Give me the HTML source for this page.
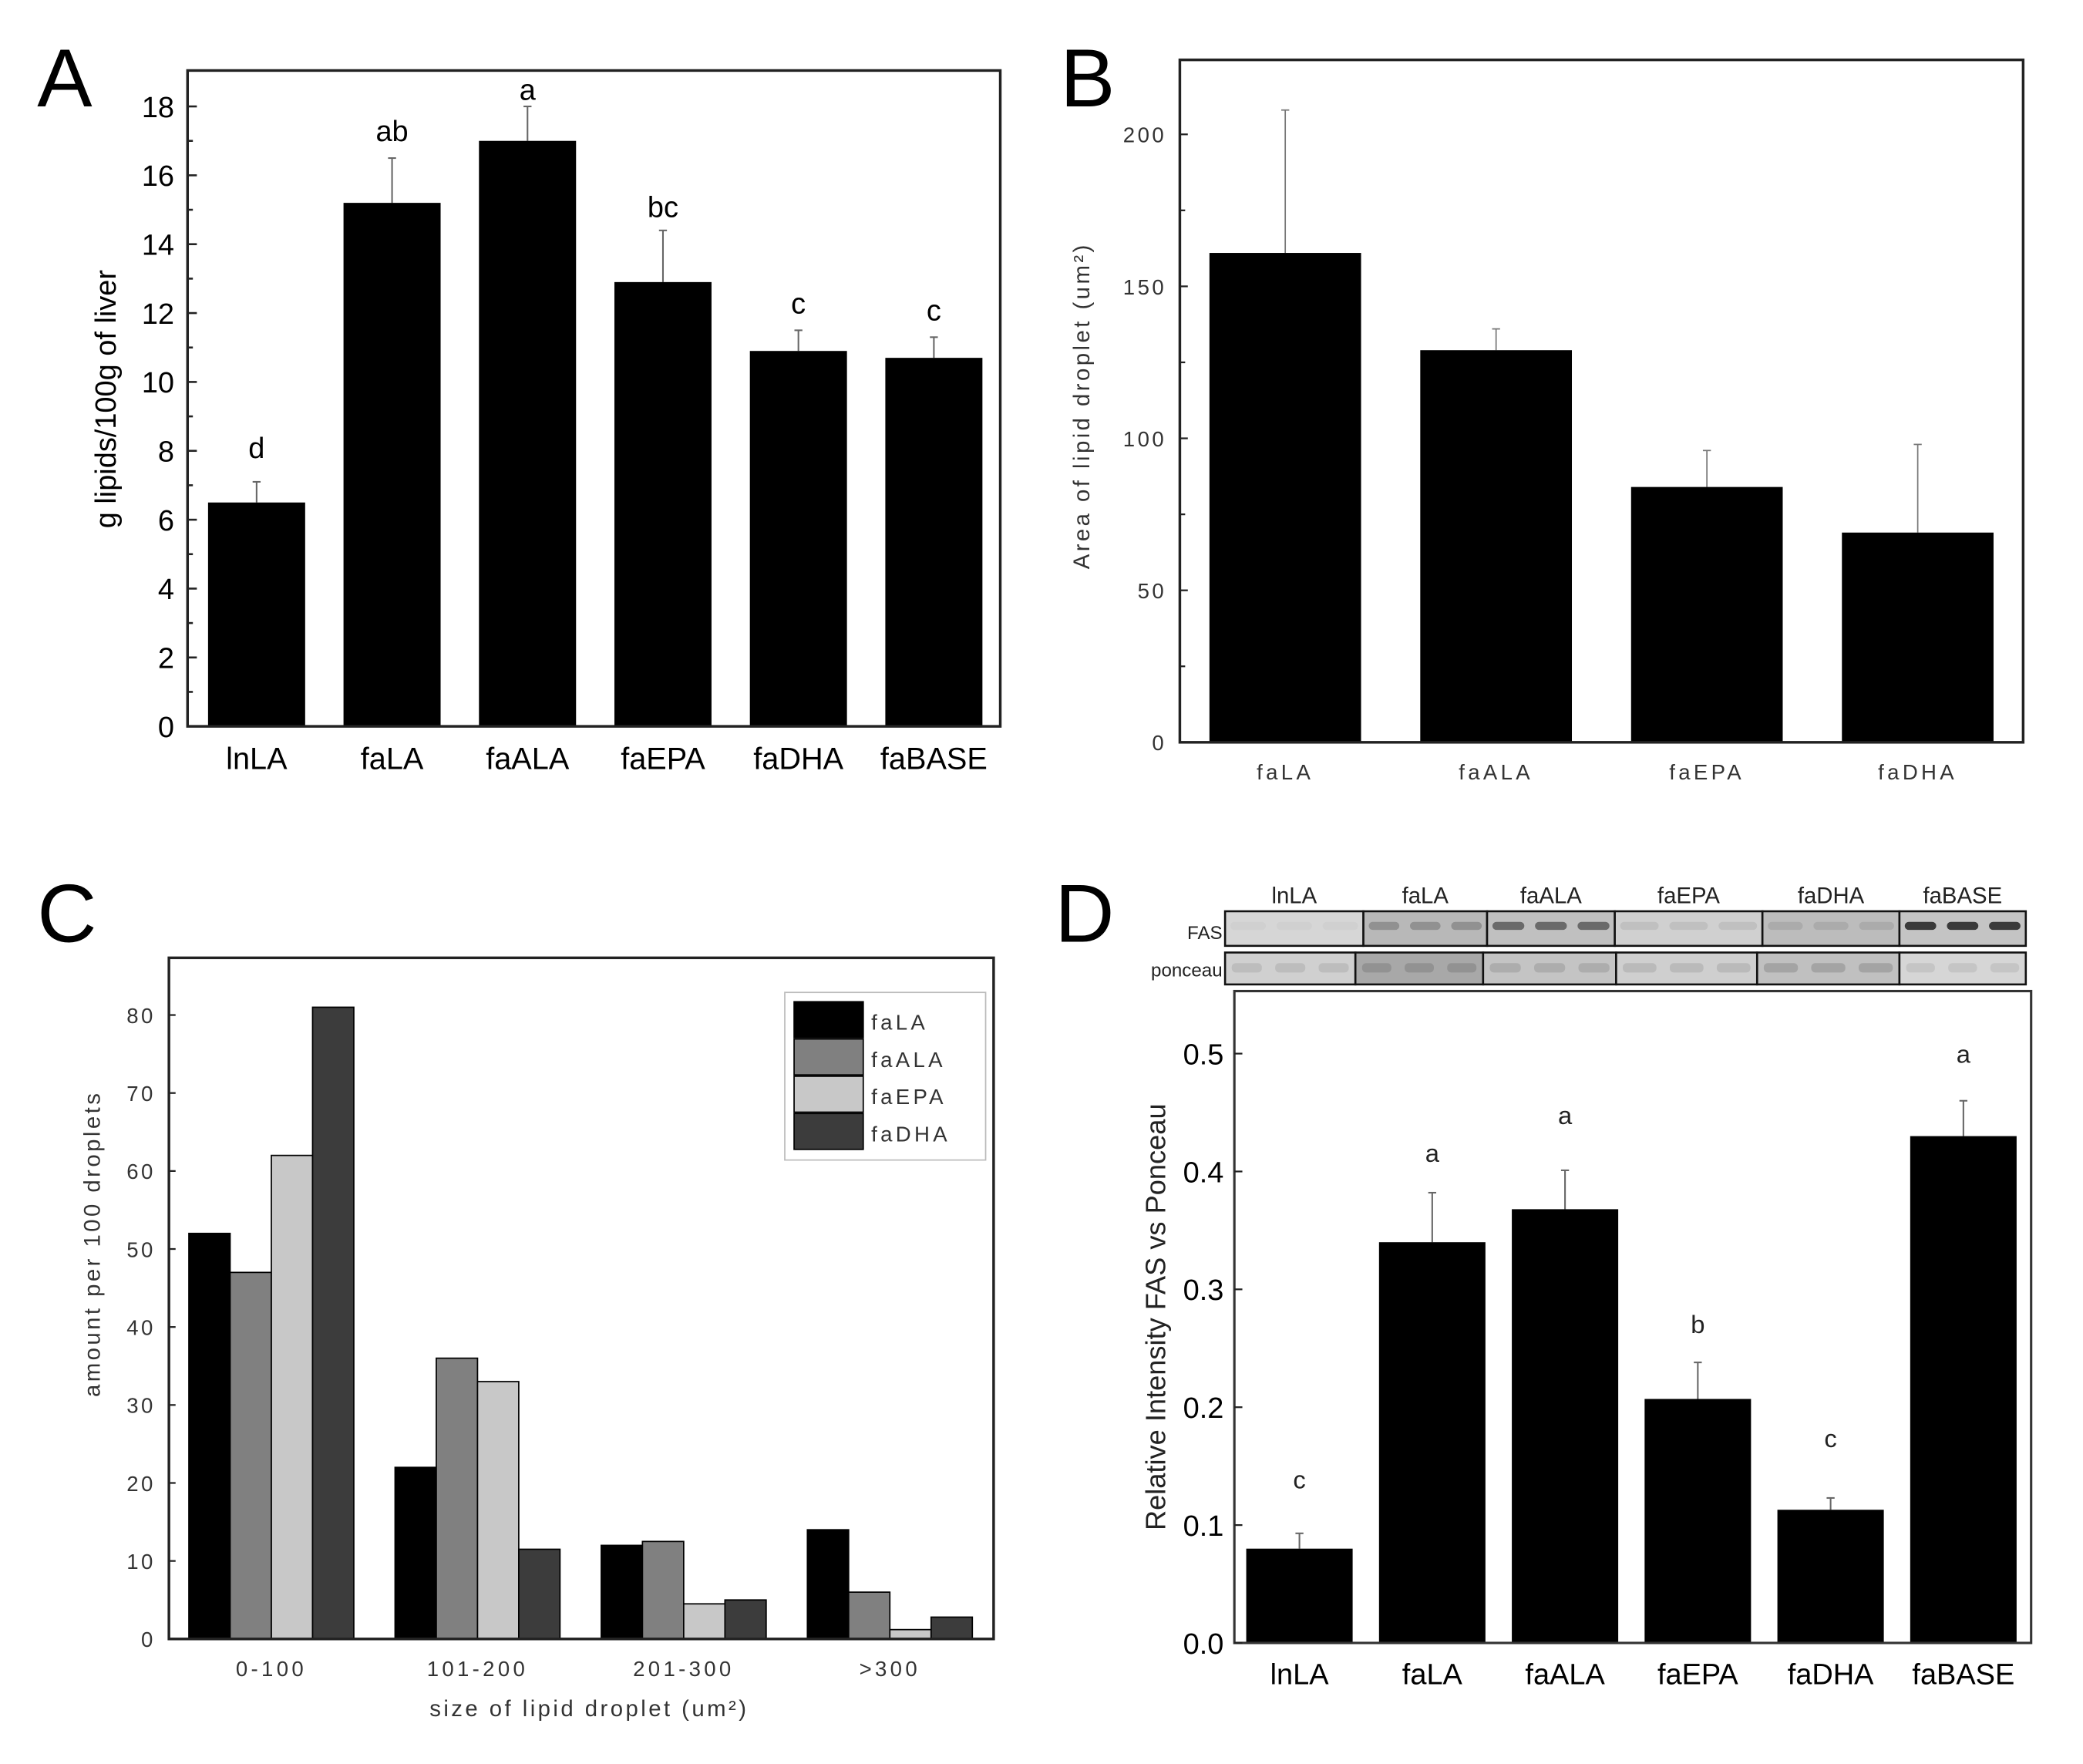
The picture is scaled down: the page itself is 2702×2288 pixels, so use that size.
<!DOCTYPE html>
<html><head><meta charset="utf-8"><style>
html,body{margin:0;padding:0;background:#fff;}
svg{display:block;}
text{font-family:"Liberation Sans",Arial,sans-serif;}
</style></head><body>
<svg id="fig" width="2702" height="2288" viewBox="0 0 1566 1326" preserveAspectRatio="none" xmlns="http://www.w3.org/2000/svg">
<rect x="0" y="0" width="1566" height="1326" fill="#fff"/>
</svg>
<script>
// ---------- Panel A data ----------
const aCats = ["lnLA","faLA","faALA","faEPA","faDHA","faBASE"];
const aVals = [6.5, 15.2, 17.0, 12.9, 10.9, 10.7];
const aErr = [0.6, 1.3, 1.0, 1.5, 0.6, 0.6];
const aLetters = ["d","ab","a","bc","c","c"];
const aLetterVal = [8.1, 17.3, 18.5, 15.1, 12.3, 12.1];
const aTicks = [0,2,4,6,8,10,12,14,16,18];
// ---------- Panel B data ----------
const bCats = ["faLA","faALA","faEPA","faDHA"];
const bVals = [161, 129, 84, 69];
const bErr = [47, 7, 12, 29];
const bTicks = [0,50,100,150,200];
// ---------- Panel C data ----------
const cGroups = ["0-100","101-200","201-300",">300"];
const cSeries = ["faLA","faALA","faEPA","faDHA"];
const cFaLA = [52, 22, 12, 14];
const cFaALA = [47, 36, 12.5, 6];
const cFaEPA = [62, 33, 4.5, 1.2];
const cFaDHA = [81, 11.5, 5, 2.8];
const cTicks = [0,10,20,30,40,50,60,70,80];
// ---------- Panel D data ----------
const dCats = ["lnLA","faLA","faALA","faEPA","faDHA","faBASE"];
const dVals = [0.08, 0.34, 0.368, 0.207, 0.113, 0.43];
const dErr = [0.013, 0.042, 0.033, 0.031, 0.01, 0.03];
const dLetters = ["c","a","a","b","c","a"];
const dLetterVal = [0.139, 0.416, 0.448, 0.271, 0.174, 0.5];
const dTicks = [0.0,0.1,0.2,0.3,0.4,0.5];

const svg = document.getElementById('fig');
const NS = "http://www.w3.org/2000/svg";
function mk(tag, attrs, parent){
  const e = document.createElementNS(NS, tag);
  for (const k in attrs) e.setAttribute(k, attrs[k]);
  (parent||svg).appendChild(e);
  return e;
}
function txt(s, attrs, parent){ const e = mk('text', attrs, parent); e.textContent = s; return e; }

// ================= PANEL A =================
(function(){
  const g = mk('g', {});
  
  
  const L=141,R=752,T=53,B=546, vmax=18, vTop=80;
  const y = v => B - v*(B-vTop)/vmax;
  const pitch = (R-L)/6;
  const x = i => L + pitch*(i+0.5) + 1;
  const bw = 73;
  const lab = txt('A', {x:28,y:80,'font-size':62}, g);
  
  
  aVals.forEach((v,i)=>{
    const er = mk('line',{x1:x(i),x2:x(i),y1:y(v),y2:y(v+aErr[i]),stroke:'#666','stroke-width':1.2},g);
    
    
    const cap = mk('line',{x1:x(i)-3,x2:x(i)+3,y1:y(v+aErr[i]),y2:y(v+aErr[i]),stroke:'#666','stroke-width':1.2},g);
    
    
    const r = mk('rect',{x:x(i)-bw/2,y:y(v),width:bw,height:B-y(v),fill:'#000'},g);
    
    
    const lt = txt(aLetters[i],{x:x(i),y:y(aLetterVal[i])+8,'font-size':22,'text-anchor':'middle'},g);
    
    
    const xl = txt(aCats[i],{x:x(i),y:578,'font-size':23,'text-anchor':'middle'},g);
    
    
  });
  const box = mk('rect',{x:L,y:T,width:R-L,height:B-T,fill:'none',stroke:'#222','stroke-width':2},g);
  
  
  for(let v=0; v<=18; v+=1){
    const major = v%2===0;
    const t = mk('line',{x1:L,x2:L+(major?7:4),y1:y(v),y2:y(v),stroke:'#222','stroke-width':1.5},g);
    
    
  }
  aTicks.forEach(v=>{
    const t = txt(String(v),{x:L-10,y:y(v)+8,'font-size':22,'text-anchor':'end'},g);
    
    
  });
  const yt = txt('g lipids/100g of liver',{x:0,y:0,'font-size':22,'text-anchor':'middle',transform:'translate(87,300) rotate(-90)'},g);
  
  
})();

// ================= PANEL B =================
(function(){
  const g = mk('g', {});
  
  
  const L=887,R=1521,T=45,B=558;
  const y = v => B - v*(B-101)/200;
  const x = i => L + (R-L)*(i+0.5)/4;
  const bw = 114;
  const lab = txt('B', {x:797,y:80,'font-size':62}, g);
  
  
  bVals.forEach((v,i)=>{
    const cx = x(i);
    const er = mk('line',{x1:cx,x2:cx,y1:y(v),y2:y(v+bErr[i]),stroke:'#777','stroke-width':1},g);
    
    
    const cap = mk('line',{x1:cx-3,x2:cx+3,y1:y(v+bErr[i]),y2:y(v+bErr[i]),stroke:'#777','stroke-width':1},g);
    
    
    const r = mk('rect',{x:cx-bw/2,y:y(v),width:bw,height:B-y(v),fill:'#000'},g);
    
    
    const xl = txt(bCats[i],{x:cx,y:586,'font-size':16,'text-anchor':'middle','letter-spacing':2.5,fill:'#333'},g);
    
    
  });
  const box = mk('rect',{x:L,y:T,width:R-L,height:B-T,fill:'none',stroke:'#222','stroke-width':2},g);
  
  
  for(let v=0; v<=200; v+=25){
    const t = mk('line',{x1:L,x2:L+(v%50===0?6:4),y1:y(v),y2:y(v),stroke:'#222','stroke-width':1.3},g);
    
    
  }
  bTicks.forEach(v=>{
    const t = txt(String(v),{x:L-10,y:y(v)+6,'font-size':16,'text-anchor':'end','letter-spacing':2,fill:'#333'},g);
    
    
  });
  const yt = txt('Area of lipid droplet (um²)',{x:0,y:0,'font-size':17,'text-anchor':'middle','letter-spacing':2,fill:'#333',transform:'translate(819,305) rotate(-90)'},g);
  
  
})();

// ================= PANEL C =================
(function(){
  const g = mk('g', {});
  
  
  const L=127,R=747,T=720,B=1232;
  const y = v => B - v*(B-763)/80;
  const colors = ['#000','#808080','#c8c8c8','#3c3c3c'];
  const series = [cFaLA,cFaALA,cFaEPA,cFaDHA];
  const gx = i => 142 + 155*i;
  const bw = 31;
  const lab = txt('C', {x:28,y:708,'font-size':62}, g);
  
  
  cGroups.forEach((cat,i)=>{
    series.forEach((s,j)=>{
      const r = mk('rect',{x:gx(i)+bw*j,y:y(s[i]),width:bw,height:B-y(s[i]),fill:colors[j],stroke:'#000','stroke-width':1},g);
      
      
    });
    const xl = txt(cat,{x:gx(i)+2*bw,y:1260,'font-size':16,'text-anchor':'middle','letter-spacing':2.5,fill:'#333'},g);
    
    
  });
  const box = mk('rect',{x:L,y:T,width:R-L,height:B-T,fill:'none',stroke:'#222','stroke-width':2},g);
  
  
  cTicks.forEach(v=>{
    const tk = mk('line',{x1:L,x2:L+5,y1:y(v),y2:y(v),stroke:'#222','stroke-width':1.3},g);
    
    
    const t = txt(String(v),{x:L-10,y:y(v)+6,'font-size':16,'text-anchor':'end','letter-spacing':2,fill:'#333'},g);
    
    
  });
  const yt = txt('amount per 100 droplets',{x:0,y:0,'font-size':17,'text-anchor':'middle','letter-spacing':2,fill:'#333',transform:'translate(75,935) rotate(-90)'},g);
  
  
  const xt = txt('size of lipid droplet (um²)',{x:443,y:1290,'font-size':17,'text-anchor':'middle','letter-spacing':2,fill:'#333'},g);
  
  
  const lg = mk('g',{},g);
  
  
  const lb = mk('rect',{x:590,y:746,width:151,height:126,fill:'#fff',stroke:'#bbb','stroke-width':1},lg);
  
  
  cSeries.forEach((s,j)=>{
    const sw = mk('rect',{x:597,y:753+j*28,width:52,height:27,fill:colors[j],stroke:'#000','stroke-width':1},lg);
    
    
    const lt = txt(s,{x:655,y:774+j*28,'font-size':16,'letter-spacing':2.5,fill:'#333'},lg);
    
    
  });
})();

// ================= PANEL D =================
(function(){
  const g = mk('g', {});
  
  
  const L=928,R=1527,T=745,B=1235;
  const y = v => B - v*(B-792)/0.5;
  const pitch=(R-L)/6;
  const x = i => L + pitch*(i+0.5) - 1;
  const bw = 80;
  const lab = txt('D', {x:793,y:708,'font-size':62}, g);
  
  
  const blot = mk('g',{},g);
  
  
  const fasB=[921,1025,1118,1214,1325,1428,1523];
  const ponB=[921,1019,1115,1215,1321,1428,1523];
  const fasBand=['#cfcfcf','#8a8a8a','#5a5a5a','#bdbdbd','#a8a8a8','#222'];
  const fasBg=['#d6d6d6','#b8b8b8','#c0c0c0','#d0d0d0','#bcbcbc','#c4c4c4'];
  const ponBg=['#d0d0d0','#a8a8a8','#c4c4c4','#cfcfcf','#c0c0c0','#d6d6d6'];
  const ponBand=['#b8b8b8','#8c8c8c','#a8a8a8','#b4b4b4','#9c9c9c','#c0c0c0'];
  for(let i=0;i<6;i++){
    const fr = mk('rect',{x:fasB[i],y:685,width:fasB[i+1]-fasB[i],height:26,fill:fasBg[i],stroke:'#111','stroke-width':1.5},blot);
    
    
    const w=(fasB[i+1]-fasB[i])/3;
    for(let k=0;k<3;k++){
      const bd = mk('rect',{x:fasB[i]+w*k+4,y:693,width:w-8,height:6,rx:3,fill:fasBand[i],opacity:0.85},blot);
      
      
    }
    const pr = mk('rect',{x:ponB[i],y:716,width:ponB[i+1]-ponB[i],height:24,fill:ponBg[i],stroke:'#111','stroke-width':1.5},blot);
    
    
    const pw=(ponB[i+1]-ponB[i])/3;
    for(let k=0;k<3;k++){
      const pb = mk('rect',{x:ponB[i]+pw*k+5,y:724,width:pw-10,height:7,rx:3,fill:ponBand[i],opacity:0.8},blot);
      
      
    }
    const lt = txt(dCats[i],{x:(fasB[i]+fasB[i+1])/2,y:679,'font-size':17,'text-anchor':'middle',fill:'#222'},blot);
    
    
  }
  const fl = txt('FAS',{x:919,y:706,'font-size':14,'text-anchor':'end',fill:'#222'},blot);
  
  
  const pl = txt('ponceau',{x:919,y:734,'font-size':14,'text-anchor':'end',fill:'#222'},blot);
  
  
  dVals.forEach((v,i)=>{
    const er = mk('line',{x1:x(i),x2:x(i),y1:y(v),y2:y(v+dErr[i]),stroke:'#666','stroke-width':1.2},g);
    
    
    const cap = mk('line',{x1:x(i)-3,x2:x(i)+3,y1:y(v+dErr[i]),y2:y(v+dErr[i]),stroke:'#666','stroke-width':1.2},g);
    
    
    const r = mk('rect',{x:x(i)-bw/2,y:y(v),width:bw,height:B-y(v),fill:'#000'},g);
    
    
    const lt = txt(dLetters[i],{x:x(i),y:y(dLetterVal[i])+7,'font-size':19,'text-anchor':'middle',fill:'#222'},g);
    
    
    const xl = txt(dCats[i],{x:x(i),y:1266,'font-size':22,'text-anchor':'middle'},g);
    
    
  });
  const box = mk('rect',{x:L,y:T,width:R-L,height:B-T,fill:'none',stroke:'#333','stroke-width':1.8},g);
  
  
  dTicks.forEach(v=>{
    const tk = mk('line',{x1:L,x2:L+6,y1:y(v),y2:y(v),stroke:'#222','stroke-width':1.3},g);
    
    
    const t = txt(v.toFixed(1),{x:L-8,y:y(v)+8,'font-size':22,'text-anchor':'end'},g);
    
    
  });
  const yt = txt('Relative Intensity FAS vs Ponceau',{x:0,y:0,'font-size':21,'text-anchor':'middle',fill:'#222',transform:'translate(876,990) rotate(-90)'},g);
  
  
})();
</script>
</body></html>
